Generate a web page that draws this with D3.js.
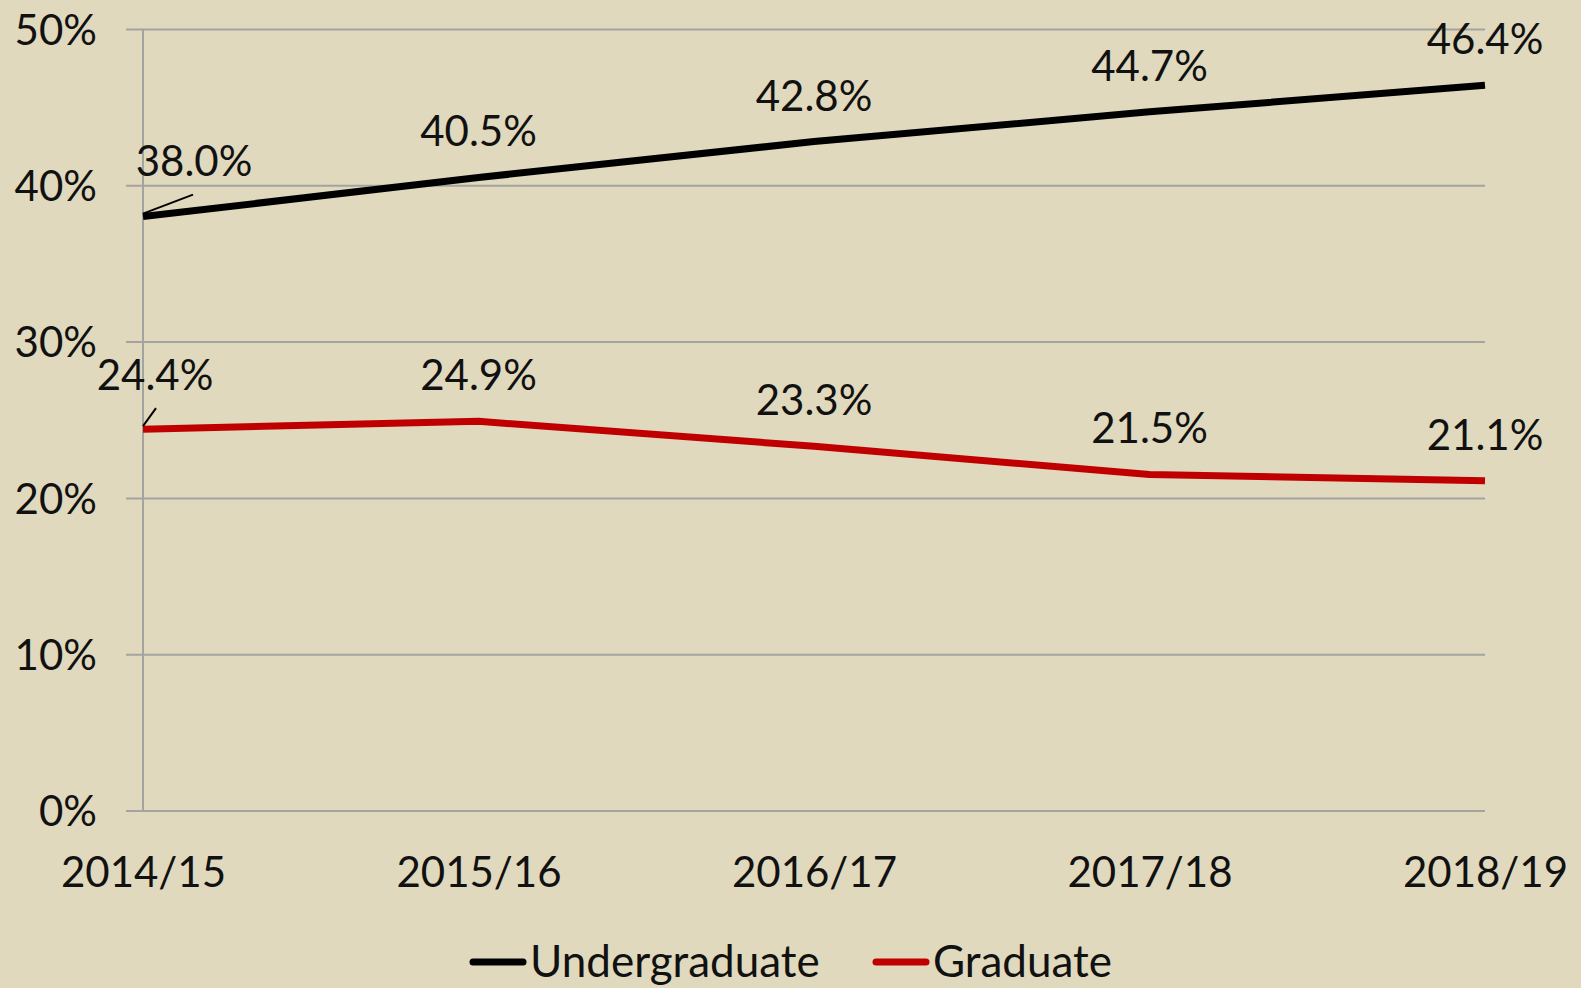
<!DOCTYPE html>
<html>
<head>
<meta charset="utf-8">
<script src="https://cdn.jsdelivr.net/npm/d3@7"></script>
<style>
  html, body { margin: 0; padding: 0; background: #E0D9BD; }
  svg { display: block; font-family: Lato, "Open Sans", sans-serif; }
</style>
</head>
<body>
<svg id="chart"></svg>
<script>
// Share of students, by academic year
const years = ['2014/15', '2015/16', '2016/17', '2017/18', '2018/19'];
const undergrad = [0.380, 0.405, 0.428, 0.447, 0.464];
const graduate = [0.244, 0.249, 0.233, 0.215, 0.211];
const yTicks = [0, 0.1, 0.2, 0.3, 0.4, 0.5];

const width = 1581;
const height = 988;
const fontSize = 42;
const textColor = '#111';
const gridColor = '#a3a3a0';

const svg = d3.select('#chart').attr('width', width).attr('height', height);

const x = d3.scalePoint().domain(years).range([143, 1485]);
const y = d3.scaleLinear().domain([0, 0.5]).range([810.5, 29]);

// Gridlines + y tick labels (gridlines stick out left of the axis like Excel ticks)
const gridLeft = 126;
const gridRight = 1485;
const yAxis = d3.axisLeft(y)
  .tickValues(yTicks)
  .tickFormat(d3.format('.0%'))
  .tickSize(gridRight - gridLeft)
  .tickPadding(29);

const gy = svg.append('g')
  .attr('transform', `translate(${gridRight},0)`)
  .call(yAxis);
gy.select('.domain').remove();
gy.selectAll('.tick line').attr('stroke', gridColor).attr('stroke-width', 2);
gy.selectAll('.tick text')
  .attr('fill', textColor).attr('font-size', fontSize + 'px')
  .attr('font-family', 'Lato, sans-serif')
  .attr('dy', '0.36em');

// Vertical axis line
svg.append('line')
  .attr('x1', x(years[0])).attr('x2', x(years[0]))
  .attr('y1', y(0.5)).attr('y2', y(0))
  .attr('stroke', gridColor).attr('stroke-width', 2);

// X axis labels
const gx = svg.append('g')
  .attr('transform', `translate(0,${y(0)})`)
  .call(d3.axisBottom(x).tickSize(0).tickPadding(47));
gx.select('.domain').remove();
gx.selectAll('.tick text')
  .attr('fill', textColor).attr('font-size', fontSize + 'px')
  .attr('font-family', 'Lato, sans-serif');

// Lines
const series = [
  { name: 'Undergraduate', values: undergrad, color: '#000000' },
  { name: 'Graduate', values: graduate, color: '#C00000' }
];

const line = d3.line()
  .x((d, i) => x(years[i]))
  .y(d => y(d));

series.forEach(s => {
  svg.append('path')
    .datum(s.values)
    .attr('fill', 'none')
    .attr('stroke', s.color)
    .attr('stroke-width', 7)
    .attr('stroke-linejoin', 'round')
    .attr('d', line);
});

// Data labels, above each point; first points are nudged off with a leader line
const nudge = {
  'Undergraduate-0': { dx: 51, dy: -10 },
  'Graduate-0': { dx: 12, dy: -8 }
};

series.forEach(s => {
  s.values.forEach((v, i) => {
    const n = nudge[`${s.name}-${i}`] || { dx: 0, dy: 0 };
    const px = x(years[i]);
    const py = y(v);
    const lx = px + n.dx;
    const ly = py - 31 + n.dy;
    svg.append('text')
      .attr('x', lx).attr('y', ly)
      .attr('text-anchor', 'middle')
      .attr('fill', textColor).attr('font-size', fontSize + 'px')
      .text(d3.format('.1%')(v));
    if (n.dx) {
      // leader line from point to the label's lower-left
      svg.append('line')
        .attr('x1', px).attr('y1', py - 3)
        .attr('x2', px + (s.name === 'Graduate' ? 13 : 50))
        .attr('y2', s.name === 'Graduate' ? py - 21 : py - 22)
        .attr('stroke', '#000').attr('stroke-width', 2);
    }
  });
});

// Legend (kept just high enough that descenders stay on the page)
const legendY = 962;
const legendItems = [
  { s: series[0], x: 470 },
  { s: series[1], x: 873 }
];
legendItems.forEach(item => {
  svg.append('line')
    .attr('x1', item.x + 3).attr('x2', item.x + 53)
    .attr('y1', legendY).attr('y2', legendY)
    .attr('stroke', item.s.color).attr('stroke-width', 7)
    .attr('stroke-linecap', 'round');
  svg.append('text')
    .attr('x', item.x + 60).attr('y', legendY + 15)
    .attr('fill', textColor).attr('font-size', '44px')
    .text(item.s.name);
});
</script>
</body>
</html>
